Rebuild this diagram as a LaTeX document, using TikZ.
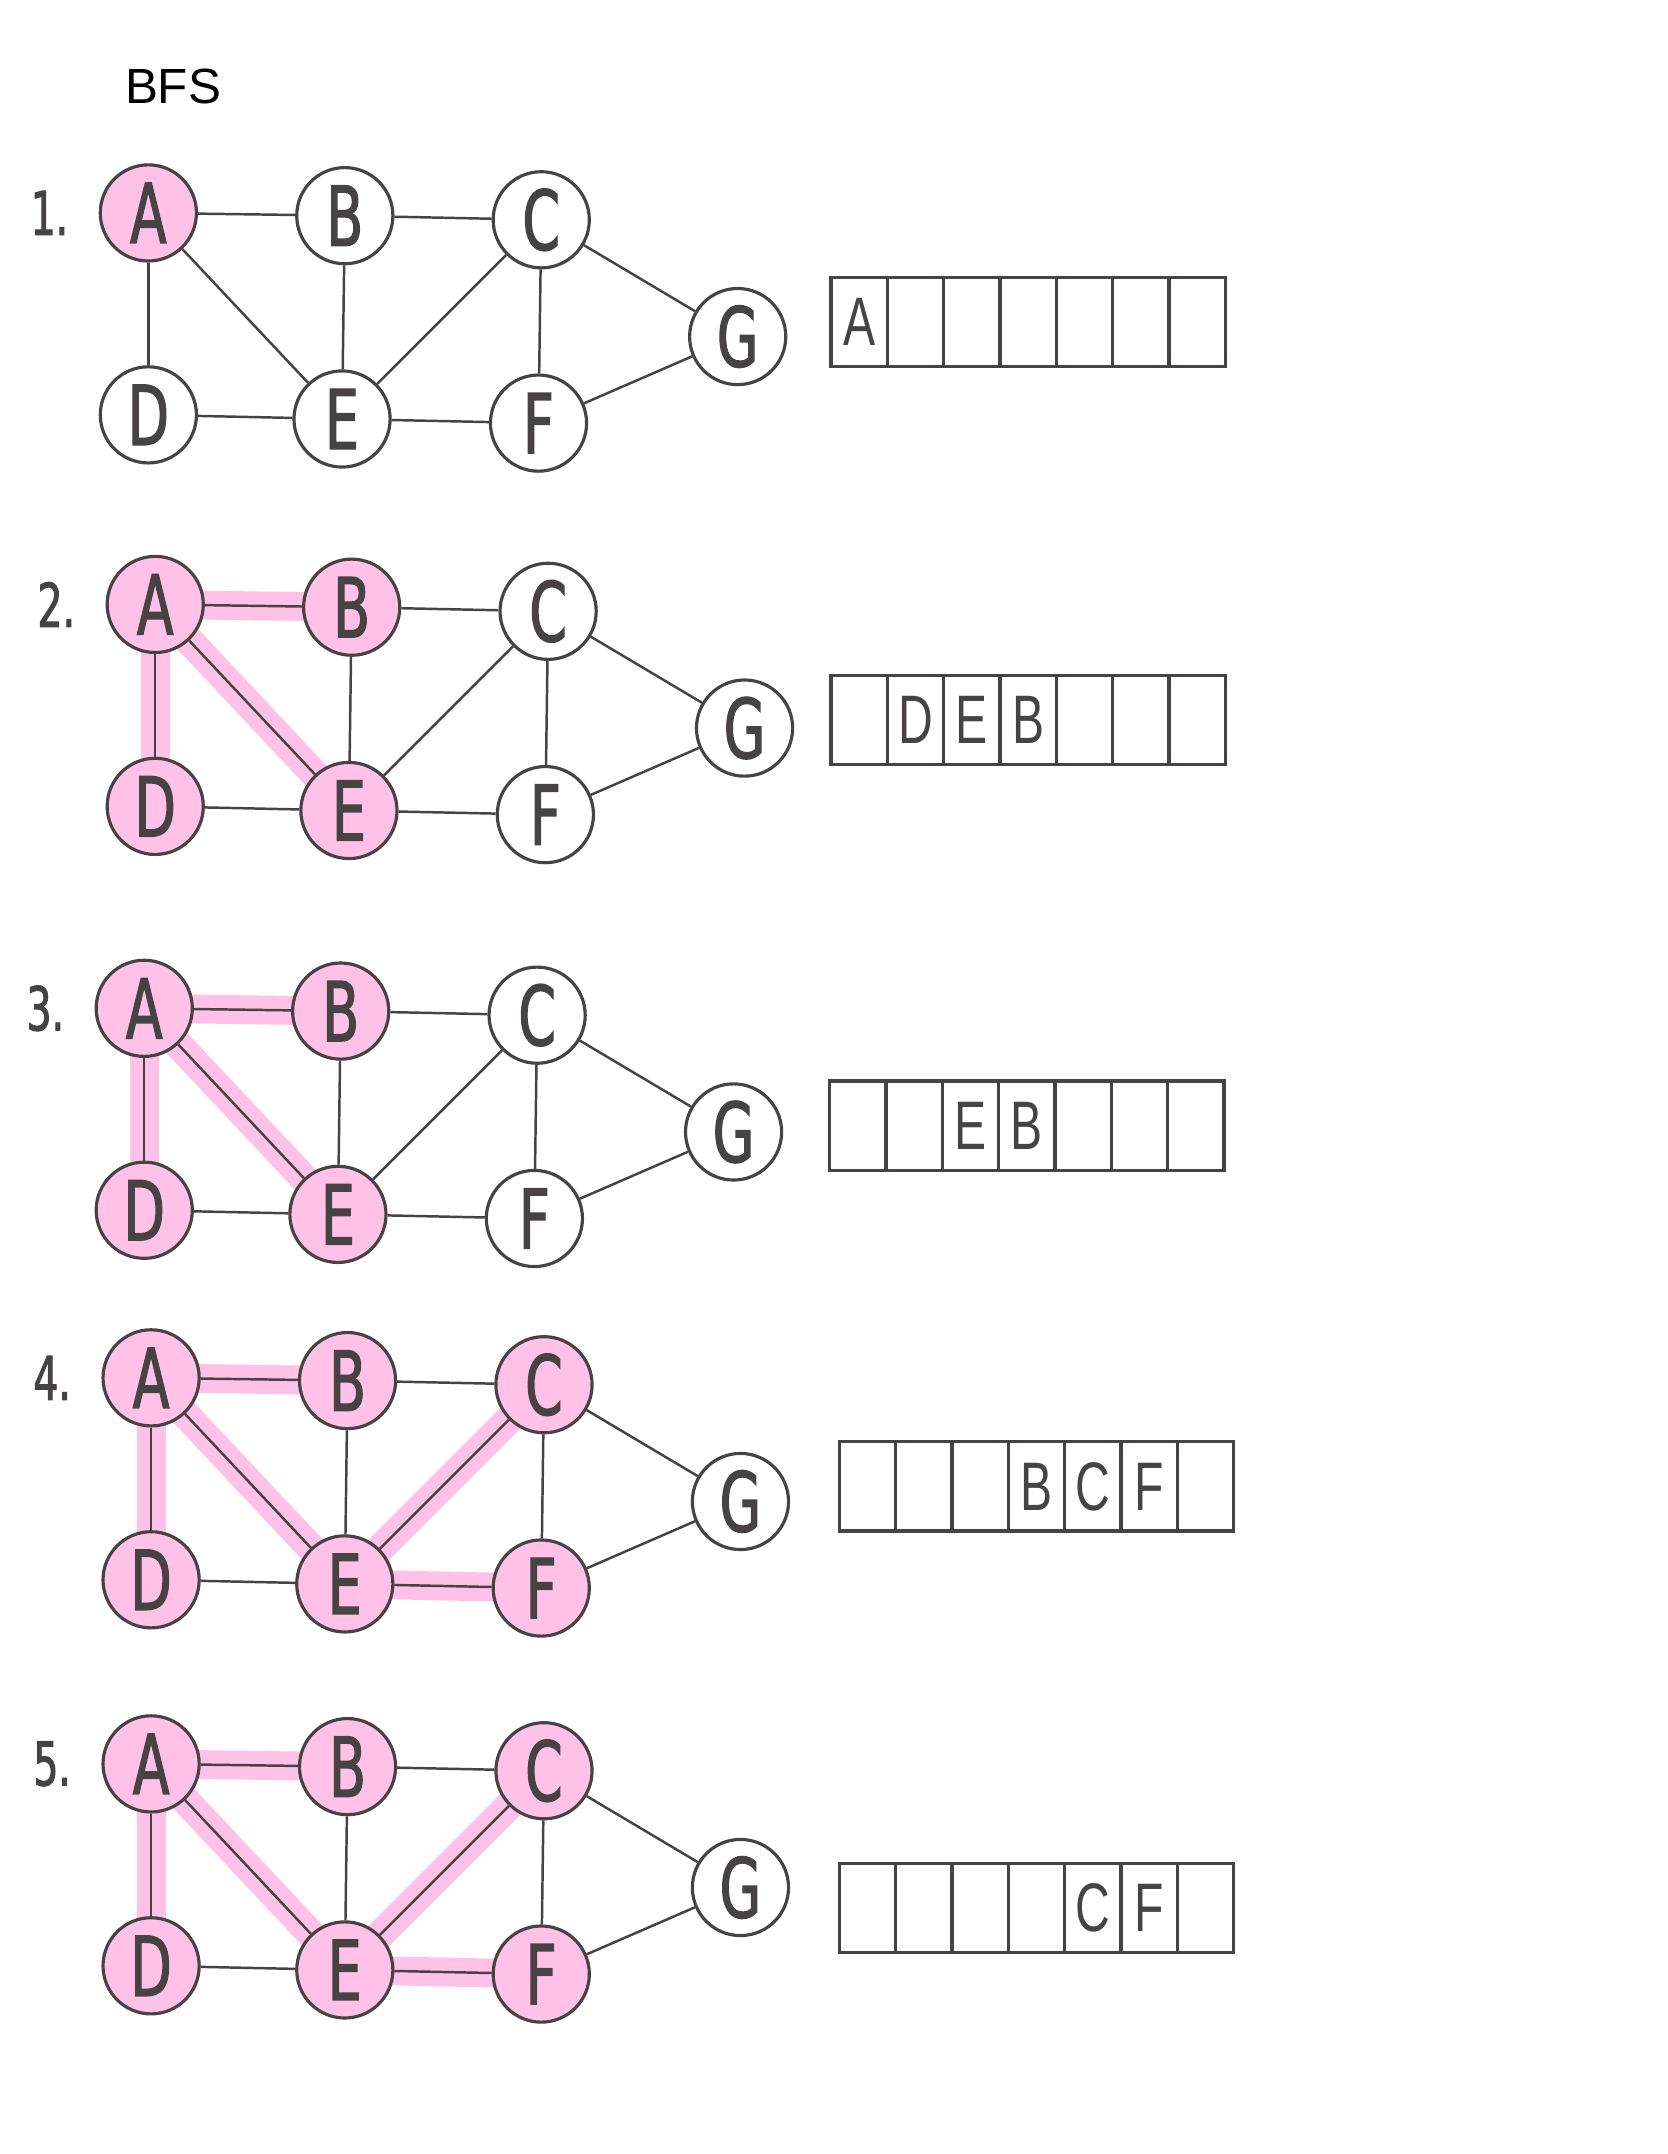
\documentclass[tikz,border=0pt]{standalone}
\usepackage{fontspec}
\setmainfont{Liberation Sans}
\newfontfamily\handfont[FakeStretch=0.65,FakeBold=1.6]{DejaVu Sans}
\newfontfamily\penfont[FakeStretch=0.7]{Liberation Sans}
\definecolor{ink}{HTML}{464246}
\definecolor{bfspink}{HTML}{FFC2E6}
\usetikzlibrary{positioning}
\pgfdeclarelayer{back}
\pgfsetlayers{back,main}

\begin{document}
\begin{tikzpicture}[x=1pt,y=-1pt,
 vtx/.style={circle,draw=ink,fill=white,line width=2.3pt,minimum size=70pt,%
   inner sep=0pt,text=ink,font=\handfont\fontsize{60}{60}\selectfont},
 edge/.style={draw=ink,line width=1.8pt},
 tree/.style={draw=bfspink,line width=21pt,line cap=round},
 cell/.style={draw=ink,line width=2.4pt,minimum width=41pt,minimum height=65pt,inner sep=0pt},
 qtxt/.style={text=ink,inner sep=0pt,font=\penfont\fontsize{50}{50}\selectfont},
 steplbl/.style={text=ink,inner sep=0pt,font=\handfont\fontsize{44}{44}\selectfont},
 % vertices already reached in each step
 hl/.style={seen#1/.style={fill=bfspink}},
 hl/.list={1A,2A,2B,2D,2E,3A,3B,3D,3E,4A,4B,4C,4D,4E,4F,5A,5B,5C,5D,5E,5F}]
\useasboundingbox (0,0) rectangle (1214,1568);
\node[font=\fontsize{36}{36}\selectfont] (title) at (126,63) {BFS};
\foreach \n/\ax/\ay/\qx/\qy in {1/108/155/605/234.5, 2/113/440/605/524,
    3/105/734/604/819.5, 4/110/1003/611/1082, 5/110/1284/611/1389} {
  \begin{scope}[shift={(\ax,\ay)}]
  \foreach \l/\dx/\dy in {A/0/0, B/143/2, C/286/5, D/0/147, E/141/150, F/284/153, G/429/90}
    \node[vtx,seen\n\l/.try] (\l\n) at (\dx,\dy) {\l};
  \end{scope}
  \node[steplbl,left=22pt of A\n] (s\n) {\n.};
  \foreach \u/\v in {A/B,B/C,A/D,A/E,B/E,C/E,C/F,C/G,D/E,E/F,F/G}
    \draw[edge] (\u\n) -- (\v\n);
  % queue
  \foreach \k in {1,...,7}
    \node[cell] (q\n-\k) at ({\qx+41*\k-20.5},\qy) {};
}
\begin{pgfonlayer}{back}
\foreach \n/\u/\v in {2/A/B,2/A/D,2/A/E,3/A/B,3/A/D,3/A/E,4/A/B,4/A/D,4/A/E,4/C/E,4/E/F,%
    5/A/B,5/A/D,5/A/E,5/C/E,5/E/F}
  \draw[tree] (\u\n.center) -- (\v\n.center);
\end{pgfonlayer}
\foreach \c/\t in {1-1/A, 2-2/D, 2-3/E, 2-4/B, 3-3/E, 3-4/B, 4-4/B, 4-5/C, 4-6/F, 5-5/C, 5-6/F}
  \node[qtxt] (t\c) at (q\c) {\t};
\end{tikzpicture}
\end{document}
